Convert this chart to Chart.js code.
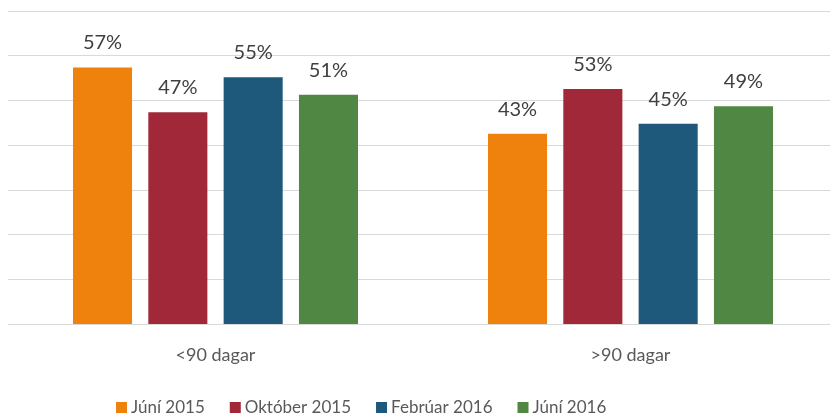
<!DOCTYPE html>
<html lang="is">

<head>
    <meta charset="UTF-8">
    <meta name="viewport" content="width=device-width, initial-scale=1.0">
    <script src="https://cdn.jsdelivr.net/npm/chart.js"></script>
    <title>Hlutfall eftir dögum</title>
    <style>
        html, body { margin: 0; padding: 0; background: #fff; overflow: hidden; }
        #wrap { width: 838px; height: 420px; position: relative; }
    </style>
</head>

<body>
    <div id="wrap">
        <canvas id="myBarChart"></canvas>
    </div>
    <script>
        const categories = ["<90 dagar", ">90 dagar"];
        const seriesNames = ["Júní 2015", "Október 2015", "Febrúar 2016", "Júní 2016"];
        const seriesColors = ["#EF820D", "#A12838", "#1E597C", "#508742"];
        const juni2015 = [57.4, 42.6];
        const oktober2015 = [47.4, 52.6];
        const februar2016 = [55.2, 44.8];
        const juni2016 = [51.3, 48.7];
        const yTicks = [0, 10, 20, 30, 40, 50, 60, 70];

        const fontFamily = "Lato, 'Open Sans', sans-serif";

        // value labels above each bar
        const barLabels = {
            id: "barLabels",
            afterDatasetsDraw(chart) {
                const ctx = chart.ctx;
                ctx.save();
                ctx.font = "20px " + fontFamily;
                ctx.fillStyle = "#404040";
                ctx.textAlign = "center";
                ctx.textBaseline = "alphabetic";
                chart.data.datasets.forEach((ds, i) => {
                    chart.getDatasetMeta(i).data.forEach((bar, j) => {
                        ctx.fillText(Math.round(ds.data[j]) + "%", bar.x, bar.y - 18);
                    });
                });
                ctx.restore();
            }
        };

        // legend row at the bottom, left of centre like the original
        const bottomLegend = {
            id: "bottomLegend",
            afterDraw(chart) {
                const ctx = chart.ctx;
                ctx.save();
                ctx.font = "17px " + fontFamily;
                ctx.textBaseline = "middle";
                let x = 116;
                const y = 408;
                chart.data.datasets.forEach(ds => {
                    ctx.fillStyle = ds.backgroundColor;
                    ctx.fillRect(x, y - 6, 11, 11);
                    ctx.fillStyle = "#595959";
                    ctx.fillText(ds.label, x + 15, y);
                    x += 15 + ctx.measureText(ds.label).width + 25;
                });
                ctx.restore();
            }
        };

        const seriesData = [juni2015, oktober2015, februar2016, juni2016];

        new Chart(document.getElementById("myBarChart"), {
            type: "bar",
            data: {
                labels: categories,
                datasets: seriesNames.map((name, i) => ({
                    label: name,
                    data: seriesData[i],
                    backgroundColor: seriesColors[i],
                    borderWidth: 0,
                    categoryPercentage: 0.726,
                    barPercentage: 0.784
                }))
            },
            options: {
                responsive: true,
                maintainAspectRatio: false,
                animation: false,
                layout: {
                    padding: { left: 8, right: 0, top: 11, bottom: 42 }
                },
                scales: {
                    x: {
                        grid: { display: false },
                        border: { display: false },
                        ticks: {
                            color: "#595959",
                            font: { family: fontFamily, size: 18 },
                            padding: 12
                        }
                    },
                    y: {
                        min: 0,
                        max: 70,
                        afterBuildTicks(scale) {
                            scale.ticks = yTicks.map(v => ({ value: v }));
                        },
                        grid: { color: "#D9D9D9", lineWidth: 1, drawTicks: false },
                        border: { display: false },
                        ticks: { display: false }
                    }
                },
                plugins: {
                    legend: { display: false },
                    tooltip: { enabled: false }
                }
            },
            plugins: [barLabels, bottomLegend]
        });
    </script>
</body>

</html>
